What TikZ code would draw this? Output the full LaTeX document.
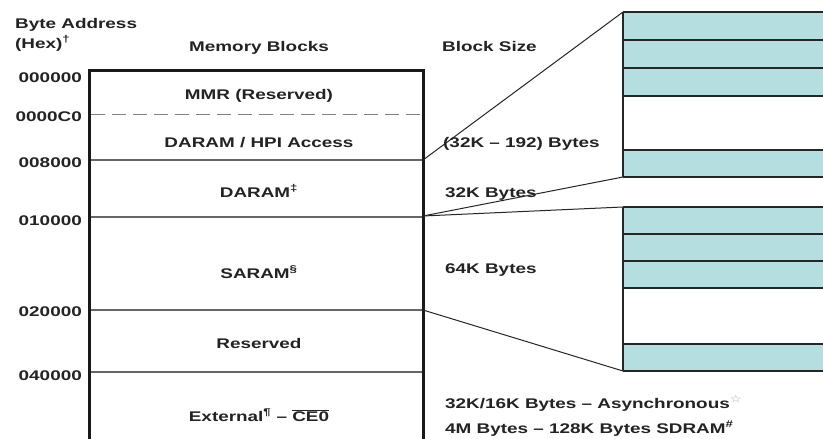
\documentclass[tikz,border=0pt]{standalone}
\usepackage{fontspec}
\setmainfont{Liberation Sans}[FakeStretch=1.35]
\newfontfamily\starfont{DejaVu Sans}[FakeStretch=1.35]
\usetikzlibrary{positioning}
\usepackage{xcolor}
\definecolor{cellteal}{RGB}{180,222,224}
\definecolor{inkgray}{RGB}{35,35,35}

\begin{document}
\begin{tikzpicture}[
    x=1pt, y=-1pt,
    every node/.style={font=\fontsize{14}{16}\selectfont\bfseries, text=inkgray, inner sep=0pt},
    addr/.style={anchor=base east},
    blocklabel/.style={anchor=base},
    sizelabel/.style={anchor=base west},
    frame/.style={line width=3pt, draw=black!90},
    divider/.style={line width=1.2pt, draw=black!60},
    halfline/.style={line width=1pt, draw=black!50, dash pattern=on 14pt off 7pt},
    cellline/.style={line width=1.3pt, draw=black!85},
    zoomline/.style={line width=1pt, draw=black!85}
]
    \useasboundingbox (0,0) rectangle (823,439);
    \fill[white] (0,0) rectangle (823,439);

    % Headers
    \node[anchor=base west] (hbyte) at (15,28) {Byte Address};
    \node[anchor=base west] (hhex) at (15,48) {(Hex)\textsuperscript{†}};
    \node[blocklabel] (hblocks) at (259,52) {Memory Blocks};
    \node[sizelabel] (hsize) at (442,52) {Block Size};

    % Dividers
    \draw[halfline] (91,114) -- (423,114);
    \foreach \yy in {160,217,310,372}
        \draw[divider] (89,\yy) -- (423,\yy);

    % Memory frame
    \draw[frame] (89,445) -- (89,70) -- (423,70) -- (423,445);

    % Addresses
    \node[addr] (a0) at (82,82) {000000};
    \node[addr] (aC0) at (82,121) {0000C0};
    \node[addr] (a8000) at (82,167) {008000};
    \node[addr] (a10000) at (82,225) {010000};
    \node[addr] (a20000) at (82,316) {020000};
    \node[addr] (a40000) at (82,380) {040000};

    % Blocks
    \node[blocklabel] (mmr) at (259,99) {MMR (Reserved)};
    \node[blocklabel] (hpi) at (259,147) {DARAM / HPI Access};
    \node[blocklabel] (daram) at (259,197) {DARAM\textsuperscript{‡}};
    \node[blocklabel] (saram) at (259,278) {SARAM\textsuperscript{§}};
    \node[blocklabel] (resv) at (259,348) {Reserved};
    \node[blocklabel] (ext) at (259,421) {External\textsuperscript{¶} – $\overline{\mbox{CE0}}$};

    % Block sizes
    \node[sizelabel] (shpi) at (443,147) {(32K – 192) Bytes};
    \node[sizelabel] (sdaram) at (445,197) {32K Bytes};
    \node[sizelabel] (ssaram) at (445,273) {64K Bytes};
    \node[sizelabel] (sasync) at (445,408) {32K/16K Bytes – Asynchronous\textsuperscript{\textcolor{black!35}{\starfont ☆}}};
    \node[sizelabel] (ssdram) at (445,433) {4M Bytes – 128K Bytes SDRAM\textsuperscript{\#}};

    % Zoomed cells
    \foreach \yt/\yb in {12/96,150/177,207/288,344/371}
        \fill[cellteal] (623,\yt) rectangle (830,\yb);
    \foreach \yy in {12,40,68,96,150,177,207,234,261,288,344,371}
        \draw[cellline] (623,\yy) -- (830,\yy);
    \draw[cellline] (623,12) -- (623,177);
    \draw[cellline] (623,207) -- (623,371);

    % Zoom anchors
    \coordinate (e8000) at (423,160);
    \coordinate (e10000) at (423,216);
    \coordinate (e20000) at (423,310);
    \coordinate (gAtop) at (623,12);
    \coordinate (gAbot) at (623,177);
    \coordinate (gBtop) at (623,207);
    \coordinate (gBbot) at (623,371);

    % Zoom lines
    \draw[zoomline] (e8000) -- (gAtop);
    \draw[zoomline] (e10000) -- (gAbot);
    \draw[zoomline] (e10000) -- (gBtop);
    \draw[zoomline] (e20000) -- (gBbot);
\end{tikzpicture}
\end{document}
